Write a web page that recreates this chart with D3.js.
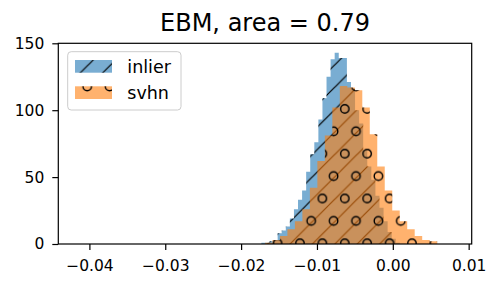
<!DOCTYPE html>
<html>
<head>
<meta charset="utf-8">
<script src="https://cdn.jsdelivr.net/npm/d3@7"></script>
<style>
  body { margin: 0; background: #fff; }
  svg { display: block; font-family: 'DejaVu Sans', sans-serif; }
</style>
</head>
<body>
<svg id="chart" width="500" height="287"></svg>
<script>
const title = 'EBM, area = 0.79'
const seriesNames = ['inlier', 'svhn']
const seriesColors = ['#1f77b4', '#ff7f0e']

// histogram bins (left edge, bin width, counts)
const inlierStart = -0.01733
const inlierWidth = 0.000537
const inlierCounts = [1, 1, 2, 3, 8, 10, 13, 19, 26, 33, 40, 54, 67, 76, 93, 109, 125, 138,
  143, 139, 139, 121, 116, 100, 90, 70, 58, 48, 36, 27, 17, 9, 4, 1]

const svhnStart = -0.016855
const svhnWidth = 0.000987
const svhnCounts = [1, 3, 6, 11, 17, 26, 42, 62, 81, 102, 118, 117, 115, 102, 82, 58, 40,
  25, 17, 11, 6, 3, 2]

const xTicks = [-0.04, -0.03, -0.02, -0.01, 0, 0.01]
const yTicks = [0, 50, 100, 150]
const xDomain = [-0.0441, 0.0104]
const yDomain = [0, 150]

const W = 500
const H = 287
const margin = { top: 43.3, right: 28.3, bottom: 43, left: 58.3 }

const svg = d3.select('#chart')

const x = d3.scaleLinear().domain(xDomain).range([margin.left, W - margin.right])
const y = d3.scaleLinear().domain(yDomain).range([H - margin.bottom, margin.top])

// hatch patterns, anchored in page space like matplotlib does
const defs = svg.append('defs')
const cell = 22.4

const slash = defs.append('pattern')
    .attr('id', 'hatch-slash')
    .attr('patternUnits', 'userSpaceOnUse')
    .attr('x', 290).attr('y', 221.6)
    .attr('width', cell).attr('height', cell)
slash.selectAll('line')
    .data([[-1, cell + 1, cell + 1, -1], [-2, 2, 2, -2], [cell - 2, cell + 2, cell + 2, cell - 2]])
  .enter().append('line')
    .attr('x1', d => d[0]).attr('y1', d => d[1])
    .attr('x2', d => d[2]).attr('y2', d => d[3])
    .attr('stroke', '#000')
    .attr('stroke-width', 1.2)

const circles = defs.append('pattern')
    .attr('id', 'hatch-circle')
    .attr('patternUnits', 'userSpaceOnUse')
    .attr('x', 300).attr('y', 243.3)
    .attr('width', cell).attr('height', cell * 2)
circles.selectAll('circle')
    .data([[0, 0], [cell, 0], [0, cell * 2], [cell, cell * 2], [cell / 2, cell]])
  .enter().append('circle')
    .attr('cx', d => d[0]).attr('cy', d => d[1])
    .attr('r', 4.2)
    .attr('fill', 'none')
    .attr('stroke', '#000')
    .attr('stroke-width', 1.4)

const hatches = ['url(#hatch-slash)', 'url(#hatch-circle)']

function steps (start, width, counts) {
  const pts = counts.map((c, i) => ({ x: start + i * width, y: c }))
  pts.push({ x: start + counts.length * width, y: counts[counts.length - 1] })
  return pts
}

const area = d3.area()
    .curve(d3.curveStepAfter)
    .x(d => x(d.x))
    .y0(y(0))
    .y1(d => y(d.y))

const series = [
  steps(inlierStart, inlierWidth, inlierCounts),
  steps(svhnStart, svhnWidth, svhnCounts)
]

series.forEach((pts, i) => {
  svg.append('path')
      .attr('d', area(pts))
      .attr('fill', seriesColors[i])
      .attr('fill-opacity', 0.6)
  svg.append('path')
      .attr('d', area(pts))
      .attr('fill', hatches[i])
})

// axes
const xAxis = d3.axisBottom(x)
    .tickValues(xTicks)
    .tickFormat(d3.format('.2f'))
    .tickSizeInner(6)
    .tickSizeOuter(0)
    .tickPadding(10)
const yAxis = d3.axisLeft(y)
    .tickValues(yTicks)
    .tickSizeInner(6)
    .tickSizeOuter(0)
    .tickPadding(8)

const gx = svg.append('g')
    .attr('transform', `translate(0,${H - margin.bottom})`)
    .call(xAxis)
const gy = svg.append('g')
    .attr('transform', `translate(${margin.left},0)`)
    .call(yAxis)

;[gx, gy].forEach(g => {
  g.select('.domain').remove()
  g.selectAll('line').attr('stroke', '#000').attr('stroke-width', 1.2)
  g.selectAll('text')
      .attr('fill', '#000')
      .style('font-family', "'DejaVu Sans', sans-serif")
      .style('font-size', '15.5px')
})

svg.append('rect')
    .attr('x', margin.left)
    .attr('y', margin.top)
    .attr('width', W - margin.left - margin.right)
    .attr('height', H - margin.top - margin.bottom)
    .attr('fill', 'none')
    .attr('stroke', '#000')
    .attr('stroke-width', 1.2)

svg.append('text')
    .attr('x', (margin.left + W - margin.right) / 2)
    .attr('y', 30.5)
    .attr('text-anchor', 'middle')
    .style('font-size', '24px')
    .text(title)

// legend
const legend = svg.append('g')
legend.append('rect')
    .attr('x', 67.7).attr('y', 51.7)
    .attr('width', 113.3).attr('height', 58.3)
    .attr('rx', 3.5)
    .attr('fill', '#fff')
    .attr('fill-opacity', 0.8)
    .attr('stroke', '#ccc')
    .attr('stroke-width', 1)

seriesNames.forEach((name, i) => {
  const top = 60 + i * 26.3
  legend.append('rect')
      .attr('x', 75).attr('y', top)
      .attr('width', 37).attr('height', 12.7)
      .attr('fill', seriesColors[i])
      .attr('fill-opacity', 0.6)
  legend.append('rect')
      .attr('x', 75).attr('y', top)
      .attr('width', 37).attr('height', 12.7)
      .attr('fill', hatches[i])
  legend.append('text')
      .attr('x', 127.3)
      .attr('y', top + 13)
      .style('font-size', '17.5px')
      .text(name)
})
</script>
</body>
</html>
